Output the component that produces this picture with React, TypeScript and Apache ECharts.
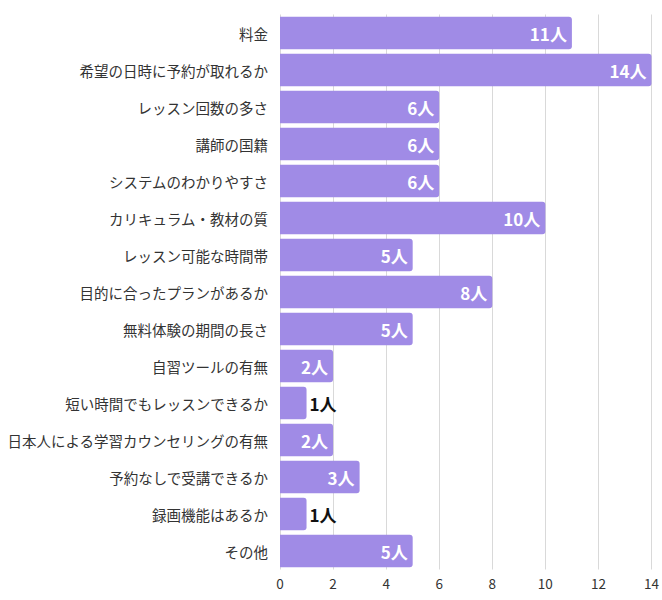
import React, { useEffect, useRef } from "react";
import * as echarts from "echarts";

const categories = [
  "料金",
  "希望の日時に予約が取れるか",
  "レッスン回数の多さ",
  "講師の国籍",
  "システムのわかりやすさ",
  "カリキュラム・教材の質",
  "レッスン可能な時間帯",
  "目的に合ったプランがあるか",
  "無料体験の期間の長さ",
  "自習ツールの有無",
  "短い時間でもレッスンできるか",
  "日本人による学習カウンセリングの有無",
  "予約なしで受講できるか",
  "録画機能はあるか",
  "その他",
];
const values = [11, 14, 6, 6, 6, 10, 5, 8, 5, 2, 1, 2, 3, 1, 5];
const xTicks = [0, 2, 4, 6, 8, 10, 12, 14];

export default function App() {
  const ref = useRef<HTMLDivElement>(null);
  useEffect(() => {
    document.body.style.margin = "0";
    const chart = echarts.init(ref.current!, null, { renderer: "svg" });
    const font = "'Noto Sans CJK JP', 'Noto Sans', sans-serif";
    chart.setOption({
      animation: false,
      grid: { left: 280, right: 9, top: 14.5, bottom: 30.5, containLabel: false },
      xAxis: {
        type: "value",
        min: xTicks[0],
        max: xTicks[xTicks.length - 1],
        interval: 2,
        axisLine: { show: false },
        axisTick: { show: false },
        axisLabel: { color: "#333", fontSize: 13.5, fontFamily: font, margin: 7 },
        splitLine: { show: true, lineStyle: { color: "#d9d9d9", width: 1 } },
      },
      yAxis: {
        type: "category",
        inverse: true,
        data: categories,
        axisLine: { show: false },
        axisTick: { show: false },
        axisLabel: { color: "#333", fontSize: 14.5, fontFamily: font, margin: 12 },
      },
      series: [
        {
          type: "bar",
          barCategoryGap: "12%",
          itemStyle: { color: "#a08be6", borderRadius: [0, 3, 3, 0] },
          data: values.map((v) =>
            v <= 1
              ? { value: v, label: { position: "right", color: "#111", distance: 3 } }
              : { value: v }
          ),
          label: {
            show: true,
            position: "insideRight",
            distance: 5,
            color: "#fff",
            fontSize: 17,
            fontWeight: "bold",
            fontFamily: font,
            formatter: (p: any) => p.value + "人",
          },
        },
      ],
    });
    return () => chart.dispose();
  }, []);
  return <div ref={ref} style={{ width: 662, height: 600 }} />;
}
